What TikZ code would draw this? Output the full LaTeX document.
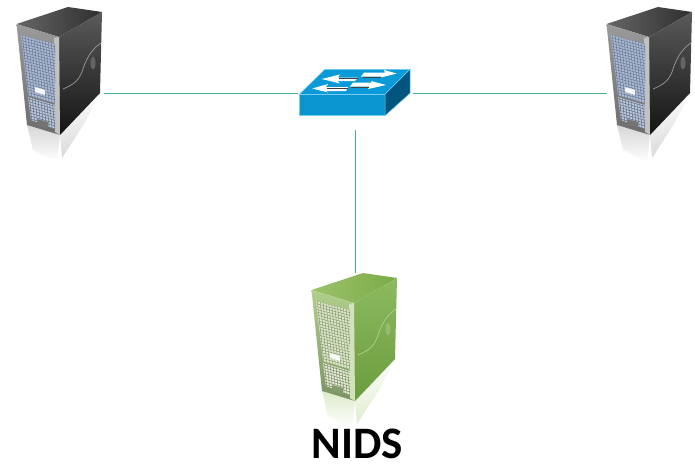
\documentclass[tikz,border=0pt]{standalone}
\usepackage{fontspec}
\setmainfont{Carlito}
\definecolor{linkc}{HTML}{45B094}
\definecolor{swtop}{HTML}{0A9AD8}
\definecolor{swfront}{HTML}{0A94D0}
\definecolor{swside}{HTML}{01557F}
\definecolor{swedge}{HTML}{78CDF0}
% dark server palette
\definecolor{dkA}{HTML}{666666}\definecolor{dkB}{HTML}{2E2E2E}\definecolor{dkC}{HTML}{5A5A5A}
\definecolor{dkD}{HTML}{141414}\definecolor{dkE}{HTML}{9A9A9A}\definecolor{dkF}{HTML}{A9BBD8}\definecolor{dkG}{HTML}{D6D6D6}
% green server palette
\definecolor{grA}{HTML}{9CC36B}\definecolor{grB}{HTML}{7BAA47}\definecolor{grC}{HTML}{8DBA60}
\definecolor{grD}{HTML}{6A9C3C}\definecolor{grE}{HTML}{B0D08C}\definecolor{grF}{HTML}{DCEAC4}\definecolor{grG}{HTML}{DDEBCB}
\tikzset{
  anchorbox/.style={inner sep=0pt,outer sep=0pt,minimum width=#1},
  link/.style={draw=linkc,line width=1.3pt},
  swface/.style={fill=#1,draw=swedge,line width=0.5pt},
  arrowwhite/.style={fill=white,draw=none},
  arrowshade/.style={draw=black!75,line width=0.7pt},
}
% \drawserver{x}{y}{palette prefix}
\newcommand{\drawserver}[3]{%
\begin{scope}[shift={(#1,#2)}]
  % reflections
  \shade[top color=#3G,bottom color=white] (27,125)--(60,135)--(57,162)--(33,150)--cycle;
  \shade[top color=#3G,bottom color=white,shading angle=200] (60,135)--(100,93)--(84,124)--(62,158)--cycle;
  % top face
  \shade[left color=#3A,right color=#3B] (16.5,24)--(68,7)--(102,12)--(59,37)--cycle;
  % side
  \shade[top color=#3C,bottom color=#3D] (59,37)--(102,12)--(100,93)--(60,135)--cycle;
  \draw[#3E,line width=0.7pt] (101,43) .. controls (90,50) and (85,62) .. (82,72) .. controls (78,82) and (72,85) .. (63,89);
  \fill[#3E!60!#3D] (93,63) ellipse [x radius=2.5,y radius=6.5];
  % front frame
  \shade[top color=#3E,bottom color=#3E!70!black] (16.5,24)--(59,37)--(60,135)--(27,125)--cycle;
  \fill[#3E!60!white] (54,38)--(59,37)--(60,135)--(55,132)--cycle;
  % upper panel
  \fill[#3F] (21,35)--(55,44)--(55,103)--(28,95)--cycle;
  \begin{scope}
    \clip (21,35)--(55,44)--(55,103)--(28,95)--cycle;
    \foreach \k in {0,...,24}{\draw[#3F!62!black,line width=0.45pt] (15,{22+2.8*\k})--(60,{34+2.8*\k});}
    \foreach \k in {0,...,14}{\draw[#3F!62!black,line width=0.45pt] ({19+2.8*\k},30)--({27+2.8*\k},105);}
  \end{scope}
  \fill[white!88!#3F] (35,87)--(45,90)--(45,95)--(35,92)--cycle;
  % lower panel
  \fill[#3F!80!white] (28,97)--(55,105)--(55,129)--(31,120)--cycle;
  \begin{scope}
    \clip (28,97)--(55,105)--(55,129)--(31,120)--cycle;
    \foreach \k in {0,...,12}{\draw[#3F!55!black,line width=0.45pt] (25,{95+2.8*\k})--(60,{105+2.8*\k});}
    \foreach \k in {0,...,12}{\draw[#3F!55!black,line width=0.45pt] ({26+2.8*\k},90)--({30+2.8*\k},132);}
  \end{scope}
  \fill[#3E!75!black] (37,119)--(48,122)--(48,128)--(37,125)--cycle;
\end{scope}}
\begin{document}
\begin{tikzpicture}[x=1pt,y=-1pt]
\useasboundingbox (0,0) rectangle (695,463);
% invisible boxes that carry the connector ends
\node[anchorbox=88pt,minimum height=170pt] (srvL) at (60,93.5) {};
\node[anchorbox=88pt,minimum height=170pt] (srvR) at (651,93.5) {};
\node[anchorbox=88pt,minimum height=154pt] (nids) at (355.5,350) {};
\node[anchorbox=115pt,minimum height=73pt] (sw) at (355.5,93.5) {};
\node[font=\bfseries\fontsize{45}{45}\selectfont,text=black,inner sep=0pt,anchor=base] (nidslabel) at (357.5,458) {NIDS};
% connectors
\draw[link] (srvL.east) -- (sw.west);
\draw[link] (sw.east) -- (srvR.west);
\draw[link] (sw.south) -- (nids.north);
% servers
\drawserver{0}{0}{dk}
\drawserver{590}{0}{dk}
\drawserver{295}{266}{gr}
% switch
\path[swface=swtop] (299.3,94.3)--(325,69.3)--(410,69.3)--(385,94.3)--cycle;
\path[swface=swfront] (299.3,94.3)--(385,94.3)--(385,115.7)--(299.3,115.7)--cycle;
\path[swface=swside] (385,94.3)--(410,69.3)--(410,93.3)--(385,115.7)--cycle;
% switch arrows
\fill[arrowwhite] (321.7,79)--(340,74.5)--(338,77.5)--(358,77.5)--(355,81)--(337,81)--(340,83.5)--cycle;
\draw[arrowshade] (339,78)--(358,78);
\fill[arrowwhite] (396.7,73.5)--(384,70)--(385,72.5)--(364,72.5)--(361,76.5)--(382,76.5)--(381,77.5)--cycle;
\draw[arrowshade] (363,77.5)--(381,77.5);
\fill[arrowwhite] (312.3,88.5)--(328,84)--(326,87)--(348,87)--(346,91)--(325,91)--(328,92.5)--cycle;
\draw[arrowshade] (327,88)--(348,88);
\fill[arrowwhite] (386,85)--(371,81)--(372,82.5)--(353,82.5)--(350,86.5)--(369,86.5)--(368,89)--cycle;
\draw[arrowshade] (351,87)--(369,87);
\end{tikzpicture}
\end{document}
